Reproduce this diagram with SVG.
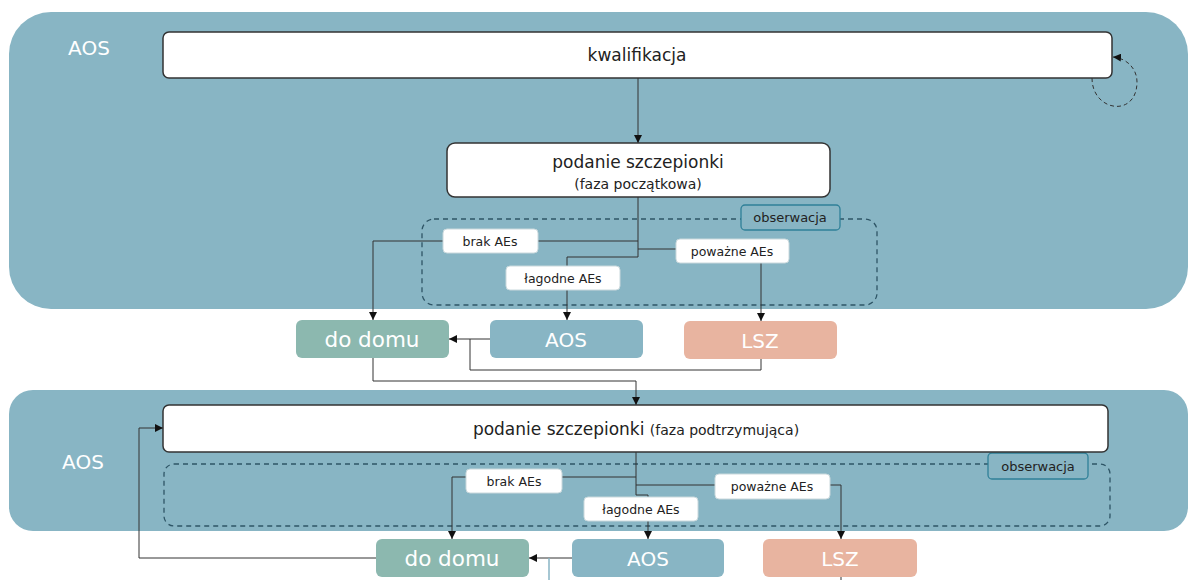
<svg xmlns="http://www.w3.org/2000/svg" width="1188" height="580" viewBox="0 0 1188 580">
<style>
.panel{fill:#88b5c4}
.box{fill:#fff;stroke:#333;stroke-width:1.5}
.lbl{fill:#fff;stroke:#c9d8dc;stroke-width:1}
.obs{fill:#88b5c4;stroke:#2f8098;stroke-width:1.3}
.dash{fill:none;stroke:#2e5566;stroke-width:1.3;stroke-dasharray:5 4}
.t{font-family:"DejaVu Sans",Verdana,sans-serif;fill:#222;text-anchor:middle}
.w{font-family:"DejaVu Sans",Verdana,sans-serif;fill:#fff;text-anchor:middle}
.c{fill:none;stroke:#333;stroke-width:1}
</style>
<defs>
<marker id="ah" viewBox="0 0 10 10" refX="10" refY="5" markerWidth="8" markerHeight="8" markerUnits="userSpaceOnUse" orient="auto">
<path d="M0,0 L10,5 L0,10 z" fill="#111"/>
</marker>
</defs>
<g id="panel-top">
<rect class="panel" x="9" y="12" width="1179" height="297" rx="42"/>
<text class="w" x="89" y="55" font-size="20">AOS</text>
</g>
<g id="panel-bottom">
<rect class="panel" x="9" y="390" width="1179" height="141" rx="24"/>
<text class="w" x="83" y="469" font-size="20">AOS</text>
</g>
<g id="obs-top">
<rect class="dash" x="422" y="219" width="455" height="86" rx="12"/>
<rect class="obs" x="741" y="205" width="99" height="25" rx="4"/>
<text class="t" x="790" y="222" font-size="13">obserwacja</text>
</g>
<g id="obs-bottom">
<rect class="dash" x="164" y="464" width="946" height="62" rx="10"/>
<rect class="obs" x="988" y="453" width="100" height="26" rx="4"/>
<text class="t" x="1038" y="471" font-size="13">obserwacja</text>
</g>
<g id="connectors">
<path class="c" d="M638,78 V143" marker-end="url(#ah)"/>
<path class="c" d="M1092,78 C1092,112 1137,118 1137,82 C1137,68 1126,58 1113,57" stroke-dasharray="4 3" stroke="#444" marker-end="url(#ah)"/>
<path class="c" d="M638,197 V257"/>
<path class="c" d="M638,241 H373 V320" marker-end="url(#ah)"/>
<path class="c" d="M638,249 H761 V321" marker-end="url(#ah)"/>
<path class="c" d="M638,257 H567 V320" marker-end="url(#ah)"/>
<path class="c" d="M490,339 H449" marker-end="url(#ah)"/>
<path class="c" d="M761,359 V370 H470 V339"/>
<path class="c" d="M373,357 V381 H636 V405" marker-end="url(#ah)"/>
<path class="c" d="M636,452 V495 H648 V539" marker-end="url(#ah)"/>
<path class="c" d="M636,477 H452 V539" marker-end="url(#ah)"/>
<path class="c" d="M636,485 H841 V539" marker-end="url(#ah)"/>
<path class="c" d="M572,558 H529" marker-end="url(#ah)"/>
<path class="c" d="M376,558 H139 V428 H163" marker-end="url(#ah)"/>
<path d="M549,558 V580" stroke="#88b5c4" stroke-width="1.5" fill="none"/>
<path class="c" d="M841,577 V580"/>
</g>
<g id="kwalifikacja">
<rect class="box" x="163" y="32" width="949" height="46" rx="6"/>
<text class="t" x="637" y="61" font-size="17">kwalifikacja</text>
</g>
<g id="podanie-poczatkowa">
<rect class="box" x="447" y="143" width="383" height="54" rx="8"/>
<text class="t" x="638" y="168" font-size="17">podanie szczepionki</text>
<text class="t" x="638" y="189" font-size="14">(faza początkowa)</text>
</g>
<g id="lbl-brak-top">
<rect class="lbl" x="443" y="229" width="95" height="24" rx="4"/>
<text class="t" x="490" y="246" font-size="12.5">brak AEs</text>
</g>
<g id="lbl-powazne-top">
<rect class="lbl" x="676" y="239" width="113" height="24" rx="4"/>
<text class="t" x="732" y="256" font-size="12.5">poważne AEs</text>
</g>
<g id="lbl-lagodne-top">
<rect class="lbl" x="506" y="266" width="114" height="24" rx="4"/>
<text class="t" x="563" y="283" font-size="12.5">łagodne AEs</text>
</g>
<g id="dodomu-top">
<rect x="296" y="320" width="153" height="38" rx="6" fill="#8cb8af"/>
<text class="w" x="372" y="347" font-size="21.5">do domu</text>
</g>
<g id="aos-top">
<rect x="490" y="320" width="153" height="38" rx="6" fill="#88b5c4"/>
<text class="w" x="566" y="347" font-size="20">AOS</text>
</g>
<g id="lsz-top">
<rect x="684" y="321" width="153" height="38" rx="6" fill="#e8b4a0"/>
<text class="w" x="760" y="348" font-size="20">LSZ</text>
</g>
<g id="podanie-podtrzymujaca">
<rect class="box" x="163" y="405" width="945" height="47" rx="6"/>
<text class="t" x="636" y="435" font-size="17">podanie szczepionki <tspan font-size="14">(faza podtrzymująca)</tspan></text>
</g>
<g id="lbl-brak-bottom">
<rect class="lbl" x="466" y="469" width="96" height="24" rx="4"/>
<text class="t" x="514" y="486" font-size="12.5">brak AEs</text>
</g>
<g id="lbl-powazne-bottom">
<rect class="lbl" x="715" y="474" width="115" height="25" rx="4"/>
<text class="t" x="772" y="491" font-size="12.5">poważne AEs</text>
</g>
<g id="lbl-lagodne-bottom">
<rect class="lbl" x="584" y="497" width="114" height="24" rx="4"/>
<text class="t" x="641" y="514" font-size="12.5">łagodne AEs</text>
</g>
<g id="dodomu-bottom">
<rect x="376" y="539" width="153" height="38" rx="6" fill="#8cb8af"/>
<text class="w" x="452" y="566" font-size="21.5">do domu</text>
</g>
<g id="aos-bottom">
<rect x="572" y="539" width="152" height="38" rx="6" fill="#88b5c4"/>
<text class="w" x="648" y="566" font-size="20">AOS</text>
</g>
<g id="lsz-bottom">
<rect x="763" y="539" width="154" height="38" rx="6" fill="#e8b4a0"/>
<text class="w" x="840" y="566" font-size="20">LSZ</text>
</g>
</svg>
